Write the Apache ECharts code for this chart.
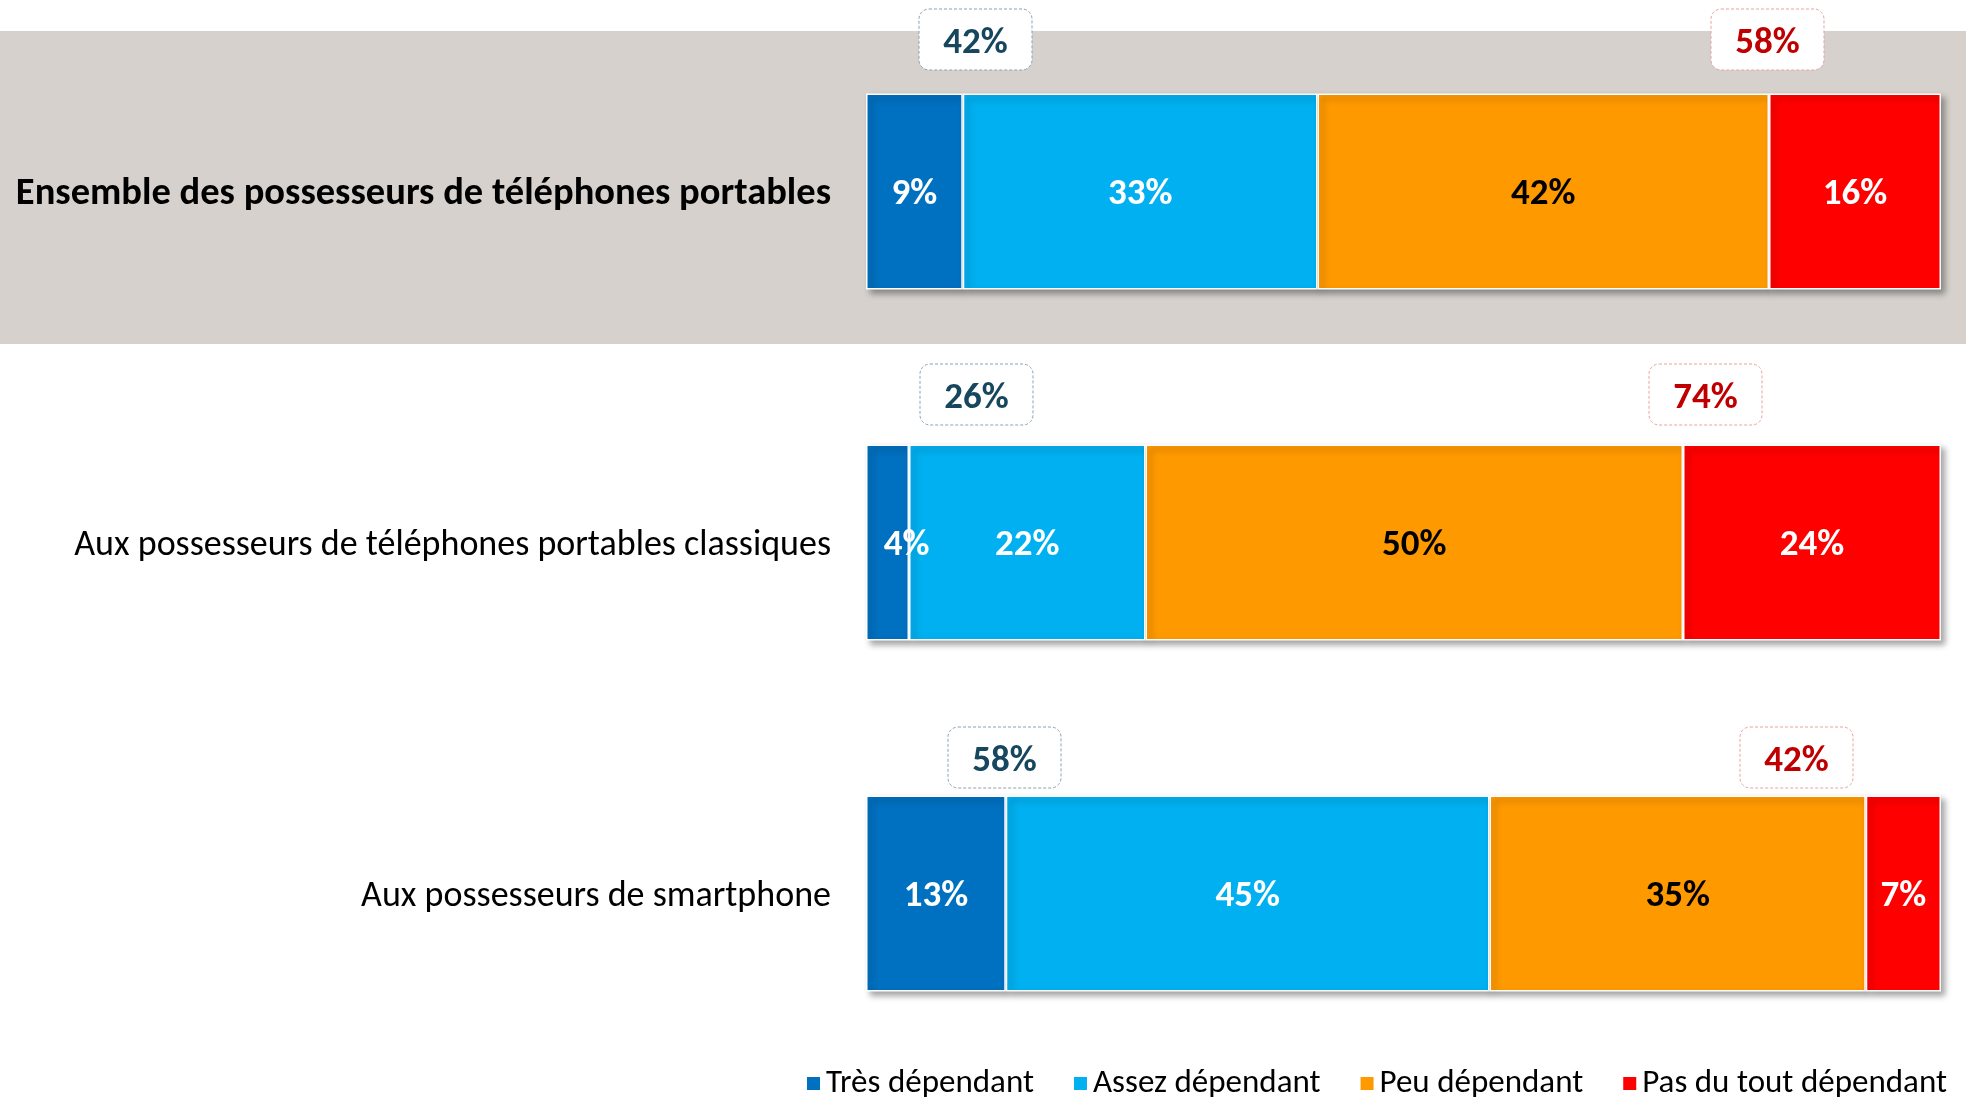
<!DOCTYPE html>
<html>
<head>
<meta charset="utf-8">
<script src="https://cdn.jsdelivr.net/npm/echarts@6/dist/echarts.min.js"></script>
<style>
    html, body { margin: 0; padding: 0; background: #fff; }
    #chart { width: 1966px; height: 1097px; }
</style>
</head>
<body>
<div id="chart"></div>
<script>
// categories (top to bottom)
const categories = [
    "Ensemble des possesseurs de téléphones portables",
    "Aux possesseurs de téléphones portables classiques",
    "Aux possesseurs de smartphone"
];
const seriesNames = ["Très dépendant", "Assez dépendant", "Peu dépendant", "Pas du tout dépendant"];
const tresDependant = [9, 4, 13];
const assezDependant = [33, 22, 45];
const peuDependant = [42, 50, 35];
const pasDuToutDependant = [16, 24, 7];

const colors = ["#0070C0", "#00B0F0", "#FF9900", "#FF0000"];
const labelColors = ["#fff", "#fff", "#000", "#fff"];
const values = [tresDependant, assezDependant, peuDependant, pasDuToutDependant];

const fontFamily = "Carlito, Lato, 'Open Sans', sans-serif";

// callout boxes: totals dépendants / peu ou pas dépendants
const calloutLeft = [[919, 9], [920, 364], [948, 727]];
const calloutRight = [[1711, 9], [1649, 364], [1740, 727]];

const callout = (pos, text, color, border) => ({
    type: "group",
    x: pos[0],
    y: pos[1],
    z: 20,
    children: [
        {
            type: "rect",
            shape: { x: 0, y: 0, width: 113, height: 61, r: 10 },
            style: { fill: "#fff", stroke: border, lineWidth: 1, lineDash: [3, 2] }
        },
        {
            type: "text",
            x: 56.5,
            y: 35,
            style: {
                text: text,
                fill: color,
                font: "bold 37px " + fontFamily,
                align: "center",
                verticalAlign: "middle"
            }
        }
    ]
});

const graphics = [
    {
        type: "rect",
        z: -10,
        silent: true,
        shape: { x: 0, y: 31, width: 1966, height: 313 },
        style: { fill: "#D6D1CD" }
    }
];
categories.forEach((c, i) => {
    graphics.push(callout(calloutLeft[i], tresDependant[i] + assezDependant[i] + "%", "#17475F", "#8AA3B3"));
    graphics.push(callout(calloutRight[i], peuDependant[i] + pasDuToutDependant[i] + "%", "#C00000", "#E6A3A3"));
});

const chart = echarts.init(document.getElementById("chart"));
chart.setOption({
    animation: false,
    backgroundColor: "#fff",
    graphic: graphics,
    legend: {
        data: seriesNames,
        left: 800,
        top: 1062,
        icon: "rect",
        itemWidth: 15,
        itemHeight: 15,
        itemGap: 38,
        textStyle: { fontSize: 33, color: "#000", fontFamily: fontFamily }
    },
    grid: {
        left: 866,
        right: 25,
        top: 16,
        bottom: 28
    },
    xAxis: {
        type: "value",
        min: 0,
        max: 100,
        show: false
    },
    yAxis: {
        type: "category",
        data: categories,
        inverse: true,
        axisLine: { show: false },
        axisTick: { show: false },
        splitLine: { show: false },
        axisLabel: {
            margin: 35,
            formatter: (v, i) => (i === 0 ? "{b|" + v + "}" : "{n|" + v + "}"),
            rich: {
                b: { fontSize: 38.5, fontWeight: "bold", color: "#000", fontFamily: fontFamily, padding: [6, 0, 0, 0] },
                n: { fontSize: 36, color: "#000", fontFamily: fontFamily, padding: [6, 0, 0, 0] }
            }
        }
    },
    series: seriesNames.map((name, k) => ({
        name: name,
        type: "bar",
        stack: "total",
        barWidth: 196,
        // narrow first segment: label sits a little to the right, as in the source
        data: values[k].map((v) => (k === 0 && v < 5 ? { value: v, label: { offset: [19, 3] } } : v)),
        itemStyle: {
            color: colors[k],
            borderColor: "#fff",
            borderWidth: 1.5,
            shadowColor: "rgba(0,0,0,0.35)",
            shadowBlur: 6,
            shadowOffsetX: 4,
            shadowOffsetY: 4
        },
        label: {
            show: true,
            position: "inside",
            offset: [0, 3],
            formatter: "{c}%",
            color: labelColors[k],
            fontSize: 37,
            fontWeight: "bold",
            fontFamily: fontFamily
        }
    }))
});
window.addEventListener("resize", () => chart.resize());
</script>
</body>
</html>
